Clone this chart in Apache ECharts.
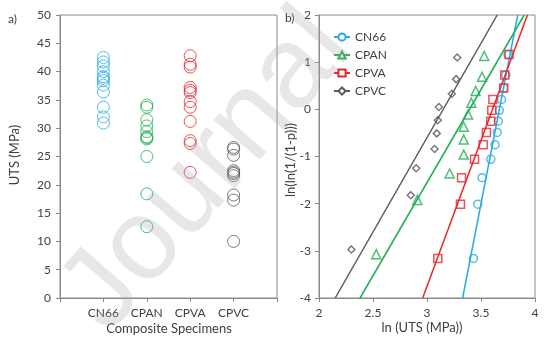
<!DOCTYPE html>
<html><head><meta charset="utf-8">
<script src="https://cdn.jsdelivr.net/npm/echarts@6/dist/echarts.min.js"></script>
<style>html,body{margin:0;padding:0;background:#fff}#c{width:554px;height:344px}</style>
</head><body><div id="c"></div>
<script>
// ---- data ----
const categories = ['CN66', 'CPAN', 'CPVA', 'CPVC'];
const colors = ['#2AABE2', '#1FAF55', '#E8262B', '#5A5A5A'];

// panel a) UTS values (MPa)
const utsCN66 = [30.9, 32.0, 33.7, 36.4, 37.6, 38.4, 38.8, 39.1, 40.0, 41.0, 41.7, 42.5];
const utsCPAN = [12.6, 18.4, 25.0, 28.1, 28.3, 28.5, 29.4, 30.4, 31.5, 33.7, 34.1];
const utsCPVA = [22.2, 27.3, 27.8, 31.2, 33.7, 34.7, 36.3, 36.7, 37.2, 40.8, 41.3, 42.8];
const utsCPVC = [10.0, 17.3, 18.2, 21.6, 22.0, 22.2, 22.5, 25.2, 26.3, 26.6];

// panel b) Weibull plot: ln(UTS) and ln(ln(1/(1-p)))
const lnCN66 = [3.43, 3.47, 3.51, 3.59, 3.63, 3.65, 3.66, 3.67, 3.69, 3.71, 3.73, 3.75];
const wbCN66 = [-3.16, -2.01, -1.45, -1.06, -0.75, -0.49, -0.25, -0.02, 0.21, 0.45, 0.73, 1.16];
const lnCPAN = [2.53, 2.91, 3.21, 3.34, 3.34, 3.34, 3.38, 3.41, 3.45, 3.51, 3.53];
const wbCPAN = [-3.07, -1.92, -1.36, -0.96, -0.64, -0.37, -0.11, 0.14, 0.39, 0.69, 1.13];
const lnCPVA = [3.10, 3.31, 3.32, 3.44, 3.52, 3.55, 3.59, 3.60, 3.61, 3.71, 3.72, 3.76];
const wbCPVA = [-3.16, -2.01, -1.45, -1.06, -0.75, -0.49, -0.25, -0.02, 0.21, 0.45, 0.73, 1.16];
const lnCPVC = [2.30, 2.85, 2.90, 3.07, 3.09, 3.10, 3.11, 3.23, 3.27, 3.28];
const wbCPVC = [-2.97, -1.82, -1.25, -0.84, -0.51, -0.23, 0.05, 0.33, 0.64, 1.10];

// fitted lines: [x at y=-4, x at y=2]
const fitX_CN66 = [3.33, 3.84];
const fitX_CPAN = [2.38, 3.90];
const fitX_CPVA = [2.96, 3.93];
const fitX_CPVC = [2.15, 3.65];
const fitY = [-4, 2];

// ---- chart ----
const FONT = 'Lato';
const txt = '#404040';
const axisCol = '#8a8a8a';
const uts = [utsCN66, utsCPAN, utsCPVA, utsCPVC];
const lnx = [lnCN66, lnCPAN, lnCPVA, lnCPVC];
const wby = [wbCN66, wbCPAN, wbCPVA, wbCPVC];
const fits = [fitX_CN66, fitX_CPAN, fitX_CPVA, fitX_CPVC];
const syms = ['circle', 'triangle', 'rect', 'diamond'];
const emptySyms = ['emptyCircle', 'emptyTriangle', 'emptyRect', 'emptyDiamond'];
const symSizes = [8, 9, 8, 7];

const series = [];
categories.forEach((name, i) => {
  series.push({
    type: 'scatter', name: name + ' UTS', xAxisIndex: 0, yAxisIndex: 0,
    symbol: 'circle', symbolSize: 12, silent: true,
    itemStyle: {color: 'rgba(0,0,0,0)', borderColor: colors[i], borderWidth: 1, opacity: 0.8},
    data: uts[i].map(v => [i + 1, v])
  });
});
categories.forEach((name, i) => {
  series.push({
    type: 'line', name: name, xAxisIndex: 1, yAxisIndex: 1,
    symbol: emptySyms[i], showSymbol: false, silent: true, z: 2,
    lineStyle: {color: colors[i], width: 1.5},
    itemStyle: {color: colors[i]},
    data: fits[i].map((x, k) => [x, fitY[k]])
  });
});
categories.forEach((name, i) => {
  series.push({
    type: 'scatter', name: name + ' pts', xAxisIndex: 1, yAxisIndex: 1,
    symbol: syms[i], symbolSize: symSizes[i], silent: true, z: 3,
    itemStyle: {color: 'rgba(0,0,0,0)', borderColor: colors[i], borderWidth: 1.5},
    data: lnx[i].map((x, k) => [x, wby[i][k]])
  });
});

const axisBase = {
  axisLine: {show: true, onZero: false, lineStyle: {color: axisCol, width: 1}},
  axisTick: {show: true, length: 4, lineStyle: {color: axisCol}},
  splitLine: {show: false},
  axisLabel: {color: txt, fontFamily: FONT, fontSize: 12}
};

const option = {
  backgroundColor: '#fff',
  animation: false,
  grid: [
    {left: 60, top: 15, width: 217, height: 283, show: true, borderColor: axisCol, borderWidth: 1, backgroundColor: 'transparent'},
    {left: 319, top: 15, width: 216, height: 283, show: true, borderColor: axisCol, borderWidth: 1, backgroundColor: 'transparent'}
  ],
  xAxis: [
    Object.assign({}, axisBase, {
      type: 'value', gridIndex: 0, min: 0, max: 5, interval: 1,
      axisLabel: Object.assign({}, axisBase.axisLabel, {margin: 9,
        formatter: v => (v >= 1 && v <= categories.length) ? categories[v - 1] : ''})
    }),
    Object.assign({}, axisBase, {
      type: 'value', gridIndex: 1, min: 2, max: 4, interval: 0.5,
      axisLabel: Object.assign({}, axisBase.axisLabel, {margin: 9})
    })
  ],
  yAxis: [
    Object.assign({}, axisBase, {
      type: 'value', gridIndex: 0, min: 0, max: 50, interval: 5,
      axisLabel: Object.assign({}, axisBase.axisLabel, {margin: 9})
    }),
    Object.assign({}, axisBase, {
      type: 'value', gridIndex: 1, min: -4, max: 2, interval: 1,
      axisLabel: Object.assign({}, axisBase.axisLabel, {margin: 8})
    })
  ],
  legend: {
    data: categories, orient: 'vertical', left: 328, top: 26,
    itemWidth: 16, itemHeight: 9, itemGap: 6,
    textStyle: {color: txt, fontFamily: FONT, fontSize: 12},
    selectedMode: false
  },
  series: series,
  graphic: [
    {type: 'text', x: 8, y: 19, style: {text: 'a)', fill: txt, font: '12px Lato', textVerticalAlign: 'middle'}},
    {type: 'text', x: 285, y: 18, style: {text: 'b)', fill: txt, font: '12px Lato', textVerticalAlign: 'middle'}},
    {type: 'text', x: 15, y: 155, rotation: Math.PI / 2, style: {text: 'UTS (MPa)', fill: txt, font: '13px Lato', textAlign: 'center', textVerticalAlign: 'middle'}},
    {type: 'text', x: 291, y: 160, rotation: Math.PI / 2, style: {text: 'ln(ln(1/(1-p)))', fill: txt, font: '13px Lato', textAlign: 'center', textVerticalAlign: 'middle'}},
    {type: 'text', x: 169, y: 329, style: {text: 'Composite Specimens', fill: txt, font: '13px Lato', textAlign: 'center', textVerticalAlign: 'middle'}},
    {type: 'text', x: 422, y: 328, style: {text: 'ln (UTS (MPa))', fill: txt, font: '13px Lato', textAlign: 'center', textVerticalAlign: 'middle'}},
    {type: 'text', x: 128, y: 352, rotation: 0.86, z: 100, silent: true,
      style: {text: 'Journal', fill: 'rgba(170,170,170,0.28)', font: '115px "Liberation Sans"', textAlign: 'left', textVerticalAlign: 'bottom'}}
  ]
};

const chart = echarts.init(document.getElementById('c'), null, {renderer: 'canvas'});
chart.setOption(option);
</script>
</body></html>
